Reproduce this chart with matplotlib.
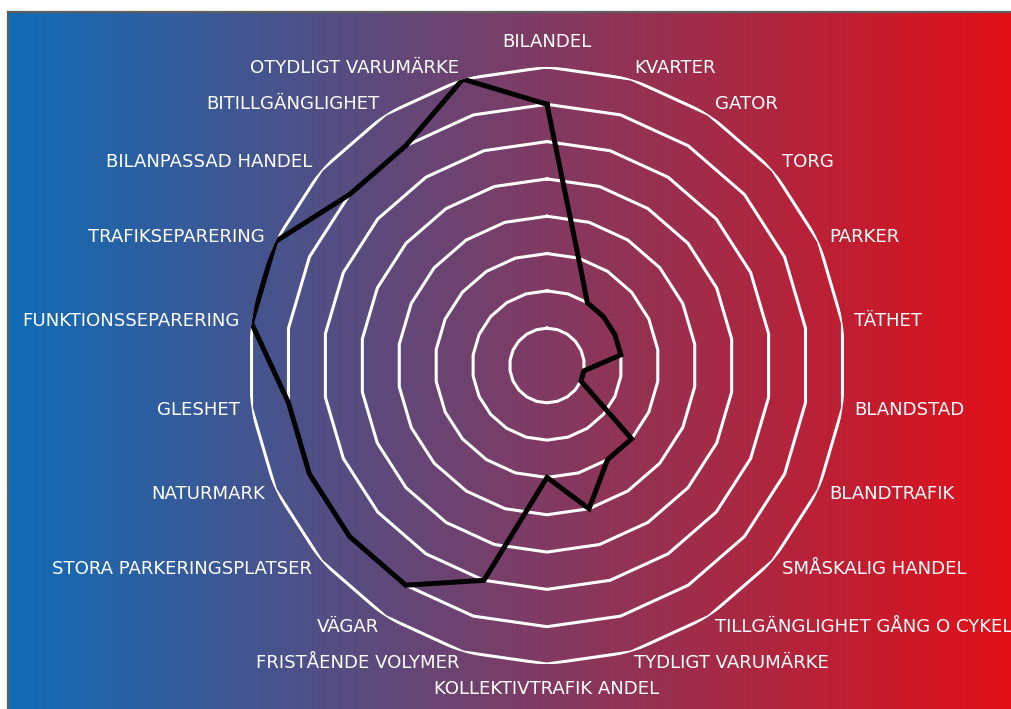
import numpy as np
from matplotlib import pyplot as plt

# kategorier medurs från toppen
labels = ['BILANDEL', 'KVARTER', 'GATOR', 'TORG', 'PARKER', 'TÄTHET',
          'BLANDSTAD', 'BLANDTRAFIK', 'SMÅSKALIG HANDEL',
          'TILLGÄNGLIGHET GÅNG O CYKEL', 'TYDLIGT VARUMÄRKE',
          'KOLLEKTIVTRAFIK ANDEL', 'FRISTÅENDE VOLYMER', 'VÄGAR',
          'STORA PARKERINGSPLATSER', 'NATURMARK', 'GLESHET',
          'FUNKTIONSSEPARERING', 'TRAFIKSEPARERING', 'BILANPASSAD HANDEL',
          'BITILLGÄNGLIGHET', 'OTYDLIGT VARUMÄRKE']
values = [7, 3, 2, 2, 2, 2, 1, 1, 3, 3, 4, 3, 6, 7, 7, 7, 7, 8, 8, 7, 7, 8]
rings = [1, 2, 3, 4, 5, 6, 7, 8]

W, H = 1012, 709
fig = plt.figure(figsize=(W / 100, H / 100), dpi=100)

# bakgrund med gradient blå -> röd
bg = fig.add_axes([0, 0, 1, 1], zorder=0)
bg.set_xlim(0, W)
bg.set_ylim(H, 0)
bg.axis('off')
left_c = np.array([16, 108, 183]) / 255
right_c = np.array([227, 15, 24]) / 255
t = np.linspace(0, 1, 512)
grad = left_c[None, :] * (1 - t[:, None]) + right_c[None, :] * t[:, None]
bg.imshow(grad[None, :, :], extent=(9, W, H, 13), aspect='auto')
bg.plot([8, W], [12, 12], color='#5f5f5f', lw=1.6)
bg.plot([8, 8], [12, H], color='#5f5f5f', lw=1.6)

# radar
cx, cy, R = 547, 365.5, 298.5
ax = fig.add_axes([(cx - R) / W, (H - cy - R) / H, 2 * R / W, 2 * R / H],
                  projection='polar', zorder=1)
ax.set_facecolor('none')
ax.set_theta_zero_location('N')
ax.set_theta_direction(-1)
ax.set_ylim(0, 8)
ax.grid(False)
ax.set_xticks([])
ax.set_yticks([])
ax.spines['polar'].set_visible(False)

n = len(labels)
angles = np.arange(n) * 2 * np.pi / n
closed = np.append(angles, angles[0])

for r in rings:
    ax.plot(closed, [r] * (n + 1), color='white', lw=2.2, zorder=2)

ax.plot(closed, values + values[:1], color='black', lw=3.6, zorder=3,
        solid_joinstyle='miter')

for a, lab in zip(angles, labels):
    deg = np.degrees(a)
    if abs(deg) < 1 or abs(deg - 180) < 1:
        ha, rr = 'center', 8.66
    elif deg < 180:
        ha, rr = 'left', 8.32
    else:
        ha, rr = 'right', 8.32
    ax.text(a, rr, lab, color='white', fontsize=13.1, ha=ha, va='center',
            clip_on=False, zorder=4)

fig.savefig('out.png', dpi=100)
